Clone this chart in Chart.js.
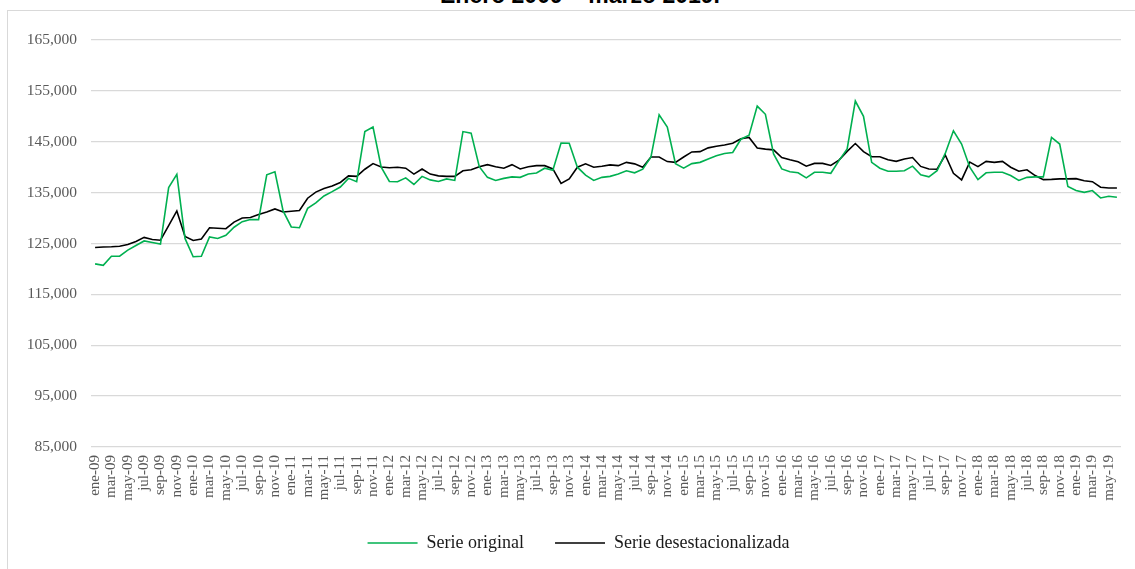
<!DOCTYPE html>
<html>
<head>
<meta charset="utf-8">
<title>Serie original y desestacionalizada</title>
<script src="https://cdn.jsdelivr.net/npm/chart.js@4.4.1/dist/chart.umd.min.js"></script>
<style>
  html, body { margin: 0; padding: 0; background: #fff; }
  #wrap { position: relative; width: 1135px; height: 569px; overflow: hidden; }
  #marco { position: absolute; left: 7px; top: 10px; width: 1140px; height: 600px;
           border: 1px solid #d9d9d9; box-sizing: border-box; }
  #titulo { position: absolute; left: 280px; width: 600px; top: -16px; text-align: center;
            font: bold 23px "Liberation Sans", Arial, sans-serif; line-height: 23px;
            color: #000; white-space: nowrap; }
  #grafico { position: absolute; left: 0; top: 0; }
</style>
</head>
<body>
<div id="wrap">
  <div id="marco"></div>
  <div id="titulo">Enero 2009 – marzo 2019.</div>
  <canvas id="grafico" width="1135" height="569"></canvas>
</div>
<script>
  const meses = ['ene', 'feb', 'mar', 'abr', 'may', 'jun', 'jul', 'ago', 'sep', 'oct', 'nov', 'dic'];
  const anios = ['09', '10', '11', '12', '13', '14', '15', '16', '17', '18', '19'];

  // ene-09 ... jun-19
  const etiquetas = [];
  anios.forEach(a => meses.forEach(m => etiquetas.push(m + '-' + a)));
  etiquetas.length = 126;

  const serieOriginal = [
    121000, 120700, 122500, 122500, 123700, 124600, 125500, 125200, 124900, 136000, 138600, 126000,
    122400, 122500, 126300, 126000, 126600, 128200, 129300, 129700, 129700, 138500, 139100, 131400,
    128250, 128100, 131900, 133000, 134350, 135200, 136100, 137800, 137150, 147000, 147900, 140000,
    137200, 137150, 137900, 136600, 138200, 137500, 137200, 137700, 137400, 147000, 146700, 140100,
    138000, 137400, 137800, 138100, 138000, 138650, 138850, 139800, 139400, 144750, 144700, 140000,
    138450, 137400, 138000, 138200, 138650, 139300, 138900, 139600, 142000, 150300, 147900, 140700,
    139800, 140700, 140950, 141600, 142250, 142700, 142900, 145500, 146300, 152000, 150400, 142600,
    139650, 139100, 138900, 137900, 139000, 139000, 138800, 141300, 143600, 153000, 150000, 140950,
    139800, 139200, 139200, 139300, 140200, 138500, 138100, 139300, 142700, 147150, 144550, 140000,
    137550, 138900, 139000, 139000, 138350, 137400, 138000, 138100, 138100, 145850, 144550, 136200,
    135400, 135050, 135400, 133950, 134300, 134100
  ];

  const serieDesest = [
    124200, 124300, 124350, 124450, 124800, 125400, 126200, 125800, 125650, 128500, 131400, 126400,
    125600, 125900, 128100, 128000, 127900, 129200, 130000, 130100, 130700, 131200, 131800, 131200,
    131350, 131500, 133900, 135100, 135800, 136300, 137000, 138300, 138200, 139600, 140700, 140050,
    139900, 140000, 139800, 138650, 139650, 138650, 138300, 138200, 138200, 139300, 139500, 140100,
    140500, 140100, 139800, 140500, 139650, 140100, 140300, 140300, 139650, 136800, 137700, 140000,
    140650, 140000, 140200, 140450, 140300, 140950, 140650, 140000, 142000, 142000, 141100, 140950,
    142000, 143000, 143050, 143800, 144100, 144350, 144700, 145600, 145850, 143750, 143550, 143400,
    141900, 141450, 141050, 140200, 140750, 140750, 140350, 141400, 143100, 144650, 143050, 142050,
    142050, 141450, 141150, 141600, 141900, 140150, 139650, 139600, 142400, 138800, 137500, 141000,
    140100, 141150, 140950, 141150, 140000, 139200, 139500, 138350, 137550, 137600, 137700, 137700,
    137750, 137350, 137150, 136050, 135900, 135900
  ];

  const fuenteSerif = '"Liberation Serif", "Times New Roman", serif';

  // nudge the legend a few px right, like the original
  const correrLeyenda = {
    id: 'correrLeyenda',
    afterLayout(chart) {
      chart.legend.left += 8;
      chart.legend.right += 8;
    }
  };

  new Chart(document.getElementById('grafico').getContext('2d'), {
    type: 'line',
    data: {
      labels: etiquetas,
      datasets: [
        {
          label: 'Serie original',
          data: serieOriginal,
          borderColor: '#00b050',
          backgroundColor: '#00b050',
          borderWidth: 1.6
        },
        {
          label: 'Serie desestacionalizada',
          data: serieDesest,
          borderColor: '#000000',
          backgroundColor: '#000000',
          borderWidth: 1.6
        }
      ]
    },
    plugins: [correrLeyenda],
    options: {
      responsive: false,
      animation: false,
      elements: { point: { radius: 0 }, line: { tension: 0 } },
      layout: { autoPadding: false, padding: { left: 20, top: 40, right: 14, bottom: 7 } },
      plugins: {
        tooltip: { enabled: false },
        legend: {
          position: 'bottom',
          labels: {
            usePointStyle: true,
            pointStyle: 'line',
            pointStyleWidth: 50,
            padding: 31,
            color: '#1a1a1a',
            font: { family: fuenteSerif, size: 18 }
          }
        }
      },
      scales: {
        x: {
          offset: true,
          grid: { display: false, drawTicks: false, tickLength: 0 },
          border: { display: false },
          afterFit: s => {
            s.height = 56;
            s.paddingLeft = 0;
            s.paddingRight = 0;
          },
          ticks: {
            autoSkip: false,
            minRotation: 90,
            maxRotation: 90,
            padding: 8,
            color: '#595959',
            font: { family: fuenteSerif, size: 15 },
            callback: (v, i) => (i % 2 === 0 ? etiquetas[i] : '')
          }
        },
        y: {
          min: 85000,
          max: 165000,
          border: { display: false },
          grid: { color: '#d9d9d9', lineWidth: 1.3, drawTicks: false },
          afterFit: s => { s.width = 71; },
          ticks: {
            stepSize: 10000,
            padding: 14,
            color: '#595959',
            font: { family: fuenteSerif, size: 15.5 },
            callback: v => v.toLocaleString('en-US')
          }
        }
      }
    }
  });
</script>
</body>
</html>
